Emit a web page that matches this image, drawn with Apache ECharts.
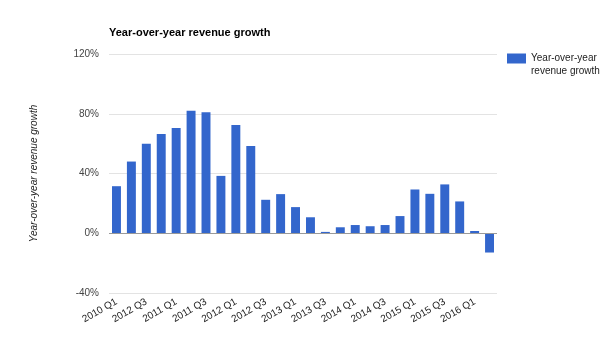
<!DOCTYPE html>
<html>
<head>
<meta charset="utf-8">
<script src="https://cdn.jsdelivr.net/npm/echarts@6/dist/echarts.min.js"></script>
<style>
html,body{margin:0;padding:0;background:#fff;}
#chart{width:615px;height:344px;}
</style>
</head>
<body>
<div id="chart"></div>
<script>
var titleText = "Year-over-year revenue growth";
var seriesName = "Year-over-year revenue growth";
var axisName = "Year-over-year revenue growth";
var categories = [
  "2010 Q1","2010 Q2","2012 Q3","2010 Q4",
  "2011 Q1","2011 Q2","2011 Q3","2011 Q4",
  "2012 Q1","2012 Q2","2012 Q3","2012 Q4",
  "2013 Q1","2013 Q2","2013 Q3","2013 Q4",
  "2014 Q1","2014 Q2","2014 Q3","2014 Q4",
  "2015 Q1","2015 Q2","2015 Q3","2015 Q4",
  "2016 Q1","2016 Q2"
];
var growth = [
  31.5, 48, 60, 66.4,
  70.4, 82, 81, 38.4,
  72.4, 58.4, 22.4, 26.2,
  17.5, 10.7, 0.9, 4,
  5.5, 4.7, 5.5, 11.5,
  29.3, 26.4, 32.7, 21.3,
  1.5, -12.9
];
var yMin = -40, yMax = 120, yStep = 40;

var font = "'Liberation Sans', Arial, Helvetica, sans-serif";
var chart = echarts.init(document.getElementById('chart'), null, {renderer: 'canvas'});
chart.setOption({
  animation: false,
  backgroundColor: '#ffffff',
  textStyle: {fontFamily: font},
  title: {
    text: titleText,
    left: 104,
    top: 22,
    textStyle: {fontSize: 11, fontWeight: 'bold', color: '#000', fontFamily: font}
  },
  legend: {
    data: [seriesName],
    orient: 'vertical',
    left: 502,
    top: 34,
    itemWidth: 19,
    itemHeight: 10,
    itemGap: 5,
    icon: 'rect',
    formatter: function () { return "\nYear-over-year\nrevenue growth"; },
    textStyle: {fontSize: 10, color: '#222', lineHeight: 13, fontFamily: font}
  },
  grid: {left: 109, right: 118, top: 54, bottom: 51, containLabel: false},
  xAxis: {
    type: 'category',
    data: categories,
    position: 'bottom',
    axisLine: {show: false, onZero: false},
    axisTick: {show: false},
    axisLabel: {
      interval: 1,
      rotate: 30,
      fontSize: 10,
      color: '#222',
      margin: 8,
      fontFamily: font
    },
    splitLine: {show: false}
  },
  yAxis: {
    type: 'value',
    min: yMin,
    max: yMax,
    interval: yStep,
    name: axisName,
    nameLocation: 'middle',
    nameGap: 70,
    nameRotate: 90,
    nameTextStyle: {fontSize: 10, fontStyle: 'italic', color: '#222', fontFamily: font},
    axisLine: {show: false},
    axisTick: {show: false},
    axisLabel: {
      formatter: function (v) { return v + '%'; },
      fontSize: 10,
      color: '#444',
      margin: 10,
      fontFamily: font
    },
    splitLine: {lineStyle: {color: '#e3e3e3', width: 1}}
  },
  series: [{
    name: seriesName,
    type: 'bar',
    data: growth,
    barCategoryGap: '40%',
    itemStyle: {color: '#3366cc'},
    markLine: {
      silent: true,
      symbol: 'none',
      label: {show: false},
      lineStyle: {color: '#999', type: 'solid', width: 1},
      data: [{yAxis: 0}]
    }
  }]
});
</script>
</body>
</html>
